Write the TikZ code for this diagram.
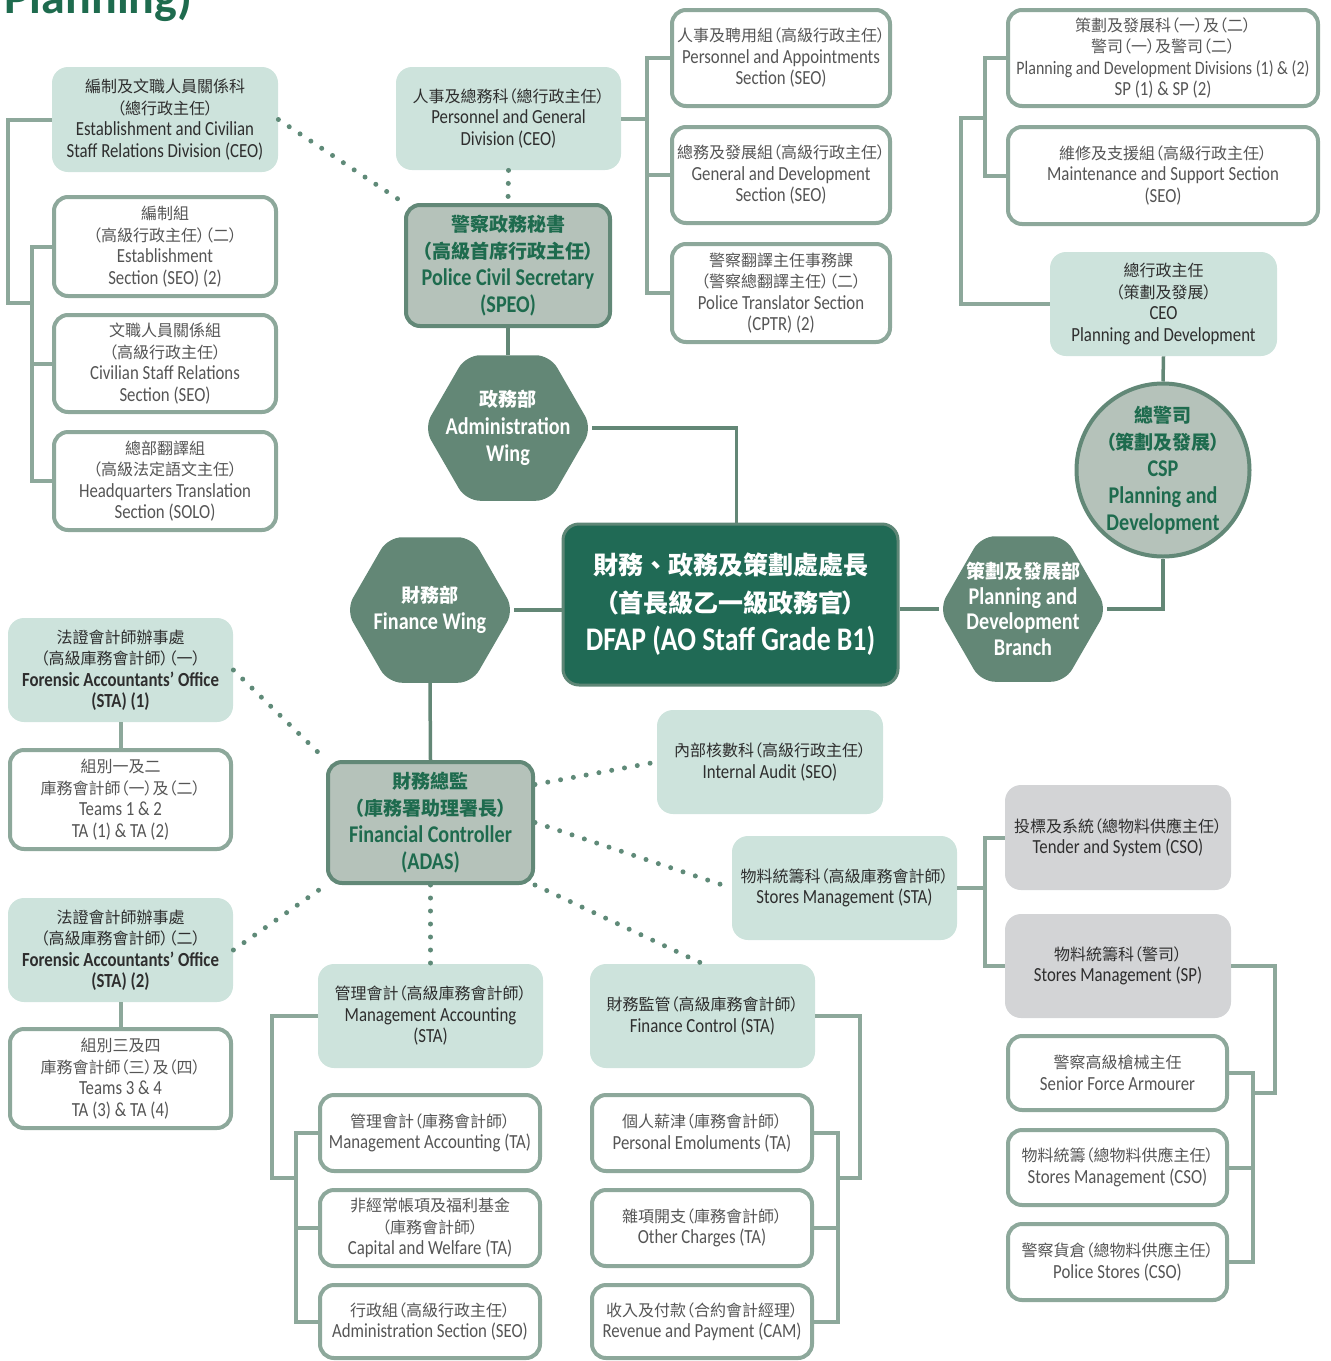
\documentclass[tikz,border=0pt]{standalone}
\usepackage{fontspec}
\setmainfont{Carlito}[FakeStretch=0.84]
\newfontfamily\zh{Noto Sans CJK TC}[RawFeature=+palt]
\newfontfamily\zhf{Noto Sans CJK TC}
\newfontfamily\ttlfont{Carlito}
\usetikzlibrary{shapes.geometric}

\definecolor{cDark}{HTML}{206A55}
\definecolor{cDarkB}{HTML}{5E8676}
\definecolor{cHex}{HTML}{638776}
\definecolor{cSage}{HTML}{B5C2BA}
\definecolor{cSageB}{HTML}{628877}
\definecolor{cMint}{HTML}{CDE3DC}
\definecolor{cLGrey}{HTML}{D3D4D6}
\definecolor{cLine}{HTML}{8DA89B}
\definecolor{cDot}{HTML}{5F8A78}
\definecolor{cGText}{HTML}{1E6B4E}
\definecolor{cText}{HTML}{2E2E2E}
\definecolor{cGrey}{HTML}{555555}

\newcommand{\cn}[2][8]{{\fontsize{#1}{11}\zh #2}}

\begin{document}
\begin{tikzpicture}[
    x=0.5pt, y=-0.5pt,
    every node/.style={align=center, inner sep=0pt},
    wh/.style 2 args={minimum width=#1*0.5pt, minimum height=#2*0.5pt},
    small/.style={font=\fontsize{10}{10.75}\selectfont},
    mbox/.style={small, fill=cMint, rounded corners=8pt, text=cText},
    wbox/.style={small, draw=cLine, line width=2pt, fill=white, rounded corners=7pt, text=cGrey},
    gbox/.style={small, fill=cLGrey, rounded corners=8pt, text=cText},
    sbox/.style={fill=cSage, draw=cSageB, line width=2pt, rounded corners=7pt, text=cGText,
                 font=\bfseries\fontsize{12}{13.5}\selectfont},
    hexa/.style={regular polygon, regular polygon sides=6, minimum size=84pt, fill=cHex, rounded corners=7pt},
    htext/.style={text=white, font=\bfseries\fontsize{12}{13.75}\selectfont},
    conn/.style={draw=cLine, line width=2pt},
    hconn/.style={draw=cHex, line width=1.75pt},
    dots/.style={draw=cDot, line width=2.5pt, line cap=round, dash pattern=on 0pt off 6.5pt}
]
\useasboundingbox (0,0) rectangle (1330,1361);

\node[anchor=base west, text=cGText, font=\fontsize{24}{24}\ttlfont\bfseries] (ttl) at (4,13) {Planning)};

% administration wing
\node[mbox, wh={226}{105}] (estab) at (165,119.5) {\cn{編制及文職人員關係科}\\\cn{（總行政主任）}\\Establishment and Civilian\\Staff Relations Division (CEO)};
\node[wbox, wh={222}{99}] (estab2) at (165,246.5) {\cn{編制組}\\\cn{（高級行政主任）（二）}\\Establishment\\Section (SEO) (2)};
\node[wbox, wh={222}{97}] (civrel) at (165,363.5) {\cn{文職人員關係組}\\\cn{（高級行政主任）}\\Civilian Staff Relations\\Section (SEO)};
\node[wbox, wh={222}{98}] (hqtrans) at (165,481) {\cn{總部翻譯組}\\\cn{（高級法定語文主任）}\\Headquarters Translation\\Section (SOLO)};
\node[mbox, wh={225}{103}] (pgdiv) at (508.5,118.5) {\cn{人事及總務科（總行政主任）}\\Personnel and General\\Division (CEO)};
\node[wbox, wh={218}{96}] (pa) at (781,58) {\cn{人事及聘用組（高級行政主任）}\\Personnel and Appointments\\Section (SEO)};
\node[wbox, wh={218}{96}] (gd) at (781,175) {\cn{總務及發展組（高級行政主任）}\\General and Development\\Section (SEO)};
\node[wbox, wh={218}{98}] (ptr) at (781,293) {\cn{警察翻譯主任事務課}\\\cn{（警察總翻譯主任）（二）}\\Police Translator Section\\(CPTR) (2)};
\node[sbox, wh={204}{121}] (speo) at (508,265.5) {\cn[9.5]{警察政務秘書}\\\cn[9.5]{（高級首席行政主任）}\\Police Civil Secretary\\(SPEO)};
\node[hexa] (adm) at (508,428) {};
\node[htext] (admt) at (adm) {\cn[9.5]{政務部}\\Administration\\Wing};

% head
\node[fill=cDark, draw=cDarkB, line width=1.5pt, rounded corners=8pt, wh={335}{161}, text=white,
      font=\bfseries\fontsize{16.5}{19}\selectfont] (dfap) at (730.5,604.5)
      {{\fontsize{12.5}{11}\zhf 財務、政務及策劃處處長}\\\cn[12.5]{（首長級乙一級政務官）}\\DFAP (AO Staff Grade B1)};
\node[hexa] (fin) at (430,610) {};
\node[htext] (fint) at (fin) {\cn[9.5]{財務部}\\Finance Wing};
\node[hexa] (pdb) at (1023,609) {};
\node[htext, font=\bfseries\fontsize{12}{12.75}\selectfont] (pdbt) at (pdb) {\cn[9.5]{策劃及發展部}\\Planning and\\Development\\Branch};

% planning and development
\node[circle, fill=cSage, draw=cSageB, line width=2pt, minimum size=86.5pt] (csp) at (1163,470) {};
\node[text=cGText, font=\bfseries\fontsize{12}{13.5}\selectfont] (cspt) at (csp) {\cn[9.5]{總警司}\\\cn[9.5]{（策劃及發展）}\\CSP\\Planning and\\Development};
\node[mbox, wh={227}{104}] (ceopd) at (1163.5,304) {\cn{總行政主任}\\\cn{（策劃及發展）}\\CEO\\Planning and Development};
\node[wbox, wh={310}{96}] (pdd) at (1163,58) {\cn{策劃及發展科（一）及（二）}\\\cn{警司（一）及警司（二）}\\{\fontsize{9.5}{10.75}\selectfont Planning and Development Divisions (1) \& (2)}\\SP (1) \& SP (2)};
\node[wbox, wh={310}{97}] (ms) at (1163,175.5) {\cn{維修及支援組（高級行政主任）}\\Maintenance and Support Section\\(SEO)};

% finance wing
\node[sbox, wh={205}{121}] (adas) at (430.5,822.5) {\cn[9.5]{財務總監}\\\cn[9.5]{（庫務署助理署長）}\\Financial Controller\\(ADAS)};
\node[mbox, wh={225}{104}] (fao1) at (120.5,670) {\cn{法證會計師辦事處}\\\cn{（高級庫務會計師）（一）}\\\textbf{Forensic Accountants’ Office}\\\textbf{(STA) (1)}};
\node[wbox, wh={221}{99}] (t12) at (120.5,799.5) {\cn{組別一及二}\\\cn{庫務會計師（一）及（二）}\\Teams 1 \& 2\\TA (1) \& TA (2)};
\node[mbox, wh={225}{104}] (fao2) at (120.5,950) {\cn{法證會計師辦事處}\\\cn{（高級庫務會計師）（二）}\\\textbf{Forensic Accountants’ Office}\\\textbf{(STA) (2)}};
\node[wbox, wh={221}{99}] (t34) at (120.5,1078.5) {\cn{組別三及四}\\\cn{庫務會計師（三）及（四）}\\Teams 3 \& 4\\TA (3) \& TA (4)};
\node[mbox, wh={226}{104}] (ia) at (770,762) {\cn{內部核數科（高級行政主任）}\\Internal Audit (SEO)};
\node[mbox, wh={225}{104}] (smsta) at (844.5,888) {\cn{物料統籌科（高級庫務會計師）}\\Stores Management (STA)};
\node[mbox, wh={225}{104}] (masta) at (430.5,1016) {\cn{管理會計（高級庫務會計師）}\\Management Accounting\\(STA)};
\node[mbox, wh={225}{104}] (fcsta) at (702.5,1016) {\cn{財務監管（高級庫務會計師）}\\Finance Control (STA)};

\node[gbox, wh={226}{105}] (ts) at (1118,837.5) {\cn{投標及系統（總物料供應主任）}\\Tender and System (CSO)};
\node[gbox, wh={226}{104}] (smsp) at (1118,966) {\cn{物料統籌科（警司）}\\Stores Management (SP)};
\node[wbox, wh={219}{74}] (sfa) at (1117.5,1073) {\cn{警察高級槍械主任}\\Senior Force Armourer};
\node[wbox, wh={219}{75}] (smcso) at (1117.5,1167.5) {\cn{物料統籌（總物料供應主任）}\\Stores Management (CSO)};
\node[wbox, wh={219}{76}] (ps) at (1117.5,1262) {\cn{警察貨倉（總物料供應主任）}\\Police Stores (CSO)};

\node[wbox, wh={220}{76}] (mata) at (430,1133) {\cn{管理會計（庫務會計師）}\\Management Accounting (TA)};
\node[wbox, wh={220}{76}] (cw) at (430,1228) {\cn{非經常帳項及福利基金}\\\cn{（庫務會計師）}\\Capital and Welfare (TA)};
\node[wbox, wh={220}{73}] (as) at (430,1321.5) {\cn{行政組（高級行政主任）}\\Administration Section (SEO)};
\node[wbox, wh={220}{76}] (pe) at (702,1133) {\cn{個人薪津（庫務會計師）}\\Personal Emoluments (TA)};
\node[wbox, wh={220}{76}] (oc) at (702,1228) {\cn{雜項開支（庫務會計師）}\\Other Charges (TA)};
\node[wbox, wh={220}{73}] (rp) at (702,1321.5) {\cn{收入及付款（合約會計經理）}\\Revenue and Payment (CAM)};

% buses
\coordinate (ebus) at (32,303);
\coordinate (pbus) at (647,117);
\coordinate (rbus) at (985,118);
\coordinate (sbus) at (985,888);
\coordinate (tbus) at (1253,1093);
\coordinate (mbus) at (296,1178);
\coordinate (fbus) at (838,1178);

\draw[conn] (estab.west) -| (8,303) -- (ebus);
\draw[conn] (estab2.west) -| (ebus) |- (hqtrans.west);
\draw[conn] (civrel.west) -- (civrel.west -| ebus);
\draw[conn] (pgdiv.east) -- (pgdiv.east -| pbus);
\draw[conn] (pa.west) -| (pbus) |- (ptr.west);
\draw[conn] (gd.west) -- (gd.west -| pbus);
\draw[conn] (ceopd.west) -| (961,118) -- (rbus);
\draw[conn] (pdd.west) -| (rbus) |- (ms.west);
\draw[conn] (fao1.south) -- (t12.north);
\draw[conn] (fao2.south) -- (t34.north);
\draw[conn] (smsta.east) -- (sbus);
\draw[conn] (ts.west) -| (sbus) |- (smsp.west);
\draw[conn] (smsp.east) -| (1275,1093) -- (tbus);
\draw[conn] (sfa.east) -| (tbus) |- (ps.east);
\draw[conn] (smcso.east) -- (smcso.east -| tbus);
\draw[conn] (masta.west) -| (272,1178) -- (mbus);
\draw[conn] (mata.west) -| (mbus) |- (as.west);
\draw[conn] (cw.west) -- (cw.west -| mbus);
\draw[conn] (fcsta.east) -| (860,1178) -- (fbus);
\draw[conn] (pe.east) -| (fbus) |- (rp.east);
\draw[conn] (oc.east) -- (oc.east -| fbus);

\draw[hconn] (speo.south) -- (adm.north);
\draw[hconn] (adm.east) -| ([xshift=3pt]dfap.north);
\draw[hconn] (fin.east) -- (fin.east -| dfap.west);
\draw[hconn] (dfap.east |- pdb.west) -- (pdb.west);
\draw[hconn] (pdb.east) -| (csp.south);
\draw[hconn] (csp.north) -- (ceopd.south);
\draw[hconn] (fin.south) -- (adas.north);

\draw[dots] (estab.east) -- (speo.north west);
\draw[dots] (pgdiv.south) -- (speo.north);
\draw[dots] (fao1.east) -- (adas.north west);
\draw[dots] (fao2.east) -- (adas.south west);
\draw[dots] (adas.20) -- (ia.west);
\draw[dots] (adas.east) -- (smsta.west);
\draw[dots] (adas.south east) -- (fcsta.north);
\draw[dots] (adas.south) -- (masta.north);
\end{tikzpicture}
\end{document}
